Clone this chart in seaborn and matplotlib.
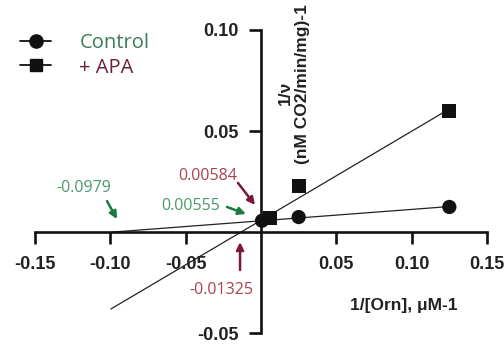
import matplotlib
matplotlib.use("Agg")
import matplotlib.pyplot as plt
import seaborn as sns
import pandas as pd
from matplotlib.lines import Line2D

# measured points (1/[Orn] vs 1/v)
control_x = [0.0007, 0.025, 0.125]
control_y = [0.0056, 0.0074, 0.0124]
apa_x = [0.006, 0.025, 0.125]
apa_y = [0.0069, 0.0228, 0.0599]

# fitted lines, read at their ends
control_fit_x = [-0.0979, 0.125]
control_fit_y = [0.0, 0.0126]
apa_fit_x = [-0.0996, 0.125]
apa_fit_y = [-0.0381, 0.0609]

xticks = [-0.15, -0.10, -0.05, 0.05, 0.10, 0.15]
yticks = [-0.05, 0.05, 0.10]

green_txt = '#4a9a6a'
red_txt = '#a8434f'
green_arr = '#1b7a3c'
red_arr = '#7d1838'

sns.set_style('ticks')
plt.rcParams['font.family'] = ['Liberation Sans', 'DejaVu Sans']

fig = plt.figure(figsize=(5.04, 3.48), dpi=100)
ax = fig.add_axes([35/504, 15/348, 452/504, 303/348])

pts = pd.concat([
    pd.DataFrame({'x': control_x, 'y': control_y, 'grp': 'Control'}),
    pd.DataFrame({'x': apa_x, 'y': apa_y, 'grp': '+ APA'}),
])
fits = pd.concat([
    pd.DataFrame({'x': control_fit_x, 'y': control_fit_y, 'grp': 'Control'}),
    pd.DataFrame({'x': apa_fit_x, 'y': apa_fit_y, 'grp': '+ APA'}),
])

sns.lineplot(data=fits, x='x', y='y', units='grp', estimator=None,
             color='#222222', lw=0.9, ax=ax, legend=False, sort=False)
sns.scatterplot(data=pts, x='x', y='y', style='grp',
                markers={'Control': 'o', '+ APA': 's'},
                s=105, color='#111111', edgecolor='none', ax=ax,
                legend=False, zorder=5, clip_on=False)

ax.set_xlim(-0.15, 0.15)
ax.set_ylim(-0.05, 0.10)
for s in ['top', 'right']:
    ax.spines[s].set_visible(False)
ax.spines['left'].set_position(('data', 0))
ax.spines['bottom'].set_position(('data', 0))
for s in ['left', 'bottom']:
    ax.spines[s].set_linewidth(1.9)
    ax.spines[s].set_color('#111111')

ax.set_xticks(xticks)
ax.set_xticklabels(['%.2f' % v for v in xticks])
ax.set_yticks(yticks)
ax.set_yticklabels(['%.2f' % v for v in yticks])
ax.tick_params(axis='x', direction='out', length=8.5, width=1.9, pad=8.5,
               labelsize=13, colors='#111111')
ax.tick_params(axis='y', direction='out', length=8.5, width=1.9, pad=7.5,
               labelsize=13, colors='#111111')
for lab in ax.get_xticklabels() + ax.get_yticklabels():
    lab.set_fontweight('bold')
    lab.set_color('#222222')
ax.set_xlabel('')
ax.set_ylabel('')

ax.text(0.816, 0.092, '1/[Orn], μM-1', transform=ax.transAxes,
        ha='center', va='center', fontsize=12.5, fontweight='bold', color='#222222')
ax.text(0.553, 0.792, '1/ν', transform=ax.transAxes, rotation=90,
        ha='center', va='center', fontsize=12.5, fontweight='bold', color='#222222')
ax.text(0.592, 0.822, '(nM CO2/min/mg)-1', transform=ax.transAxes, rotation=90,
        ha='center', va='center', fontsize=12.5, fontweight='bold', color='#222222')

# legend
handles = [
    Line2D([], [], color='#111111', lw=1.3, marker='o', markersize=9.5),
    Line2D([], [], color='#111111', lw=1.3, marker='s', markersize=9),
]
leg = fig.legend(handles, ['Control', '+ APA'], loc='center left',
                 bbox_to_anchor=(20/504, 1 - 55.5/348), frameon=False,
                 borderpad=0, borderaxespad=0, handlelength=1.55,
                 handletextpad=1.4, labelspacing=0.2,
                 prop={'family': 'Open Sans', 'size': 14.5})
leg.get_texts()[0].set_color('#3a7d5a')
leg.get_texts()[1].set_color('#6a1f3f')

# intercept annotations
afont = {'family': 'Open Sans', 'size': 11.5}
arrow = dict(arrowstyle='-|>', lw=1.8, mutation_scale=11, shrinkA=0, shrinkB=0)

ax.text(-0.1175, 0.0218, '-0.0979', color=green_txt, ha='center', va='center', **afont)
ax.annotate('', xy=(-0.0956, 0.0064), xytext=(-0.1022, 0.0153),
            arrowprops=dict(arrow, color=green_arr))
ax.text(-0.0465, 0.0129, '0.00555', color=green_txt, ha='center', va='center', **afont)
ax.annotate('', xy=(-0.0100, 0.0089), xytext=(-0.0226, 0.0124),
            arrowprops=dict(arrow, color=green_arr))
ax.text(-0.0352, 0.0277, '0.00584', color=red_txt, ha='center', va='center', **afont)
ax.annotate('', xy=(-0.0040, 0.0134), xytext=(-0.0153, 0.0243),
            arrowprops=dict(arrow, color=red_arr))
ax.text(-0.0265, -0.0287, '-0.01325', color=red_txt, ha='center', va='center', **afont)
ax.annotate('', xy=(-0.0139, -0.0050), xytext=(-0.0139, -0.0188),
            arrowprops=dict(arrow, color=red_arr))

fig.savefig('out.png', dpi=100)
